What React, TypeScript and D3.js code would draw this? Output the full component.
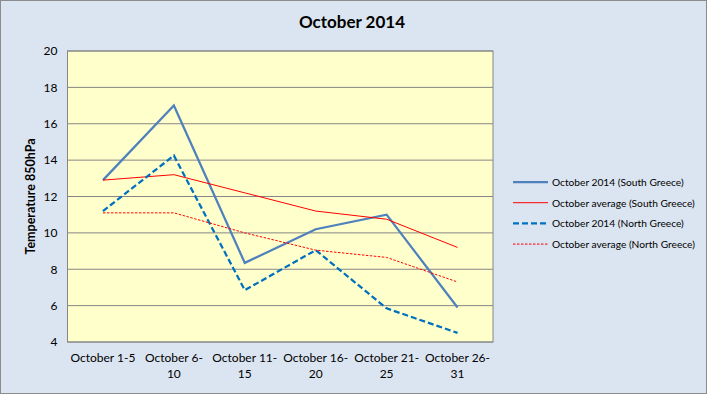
import React, { useEffect, useRef } from 'react'
import * as d3 from 'd3'

const categories = ['October 1-5', 'October 6-10', 'October 11-15', 'October 16-20', 'October 21-25', 'October 26-31']
const categoryLines = [['October 1-5'], ['October 6-', '10'], ['October 11-', '15'], ['October 16-', '20'], ['October 21-', '25'], ['October 26-', '31']]
const south2014 = [12.9, 17.0, 8.35, 10.2, 11.0, 5.9]
const southAverage = [12.9, 13.2, 12.2, 11.2, 10.75, 9.2]
const north2014 = [11.2, 14.25, 6.85, 9.05, 5.85, 4.5]
const northAverage = [11.1, 11.1, 10.0, 9.05, 8.65, 7.3]
const yTicks = [4, 6, 8, 10, 12, 14, 16, 18, 20]

const seriesNames = [
	'October 2014 (South Greece)',
	'October average (South Greece)',
	'October 2014 (North Greece)',
	'October average (North Greece)'
]

const W = 707
const H = 394
const font = 'Lato, "Open Sans", sans-serif'

export default function App () {
	const ref = useRef<SVGSVGElement>(null)

	useEffect(() => {
		const svg = d3.select(ref.current)
		svg.selectAll('*').remove()

		const plot = { left: 67.5, right: 493, top: 51, bottom: 342 }

		const x = d3.scaleBand().domain(categories).range([plot.left, plot.right])
		const y = d3.scaleLinear().domain([4, 20]).range([plot.bottom, plot.top])

		// chart background and frame
		svg.append('rect')
			.attr('x', 0.5).attr('y', 0.5)
			.attr('width', W - 1).attr('height', H - 1)
			.attr('fill', '#dbe5f1')
			.attr('stroke', '#8c8c8c')

		svg.append('text')
			.attr('x', 352).attr('y', 28)
			.attr('text-anchor', 'middle')
			.attr('font-family', font)
			.attr('font-weight', 'bold')
			.attr('font-size', 17)
			.text('October 2014')

		svg.append('rect')
			.attr('x', plot.left).attr('y', plot.top)
			.attr('width', plot.right - plot.left).attr('height', plot.bottom - plot.top)
			.attr('fill', '#ffffcc')

		// gridlines
		svg.append('g')
			.selectAll('line')
			.data(yTicks)
			.enter()
			.append('line')
				.attr('x1', plot.left).attr('x2', plot.right)
				.attr('y1', d => y(d)).attr('y2', d => y(d))
				.attr('stroke', '#868686')
				.attr('stroke-width', 1)

		svg.append('rect')
			.attr('x', plot.left).attr('y', plot.top)
			.attr('width', plot.right - plot.left).attr('height', plot.bottom - plot.top)
			.attr('fill', 'none')
			.attr('stroke', '#868686')

		// y axis
		const yAxis = svg.append('g')
			.attr('transform', `translate(${plot.left}, 0)`)
			.call(d3.axisLeft(y).tickValues(yTicks).tickSize(0).tickPadding(10).tickFormat(d3.format('d')))
		yAxis.select('.domain').remove()
		yAxis.selectAll('text')
			.attr('font-family', font)
			.attr('font-size', 12)
			.attr('fill', '#000')

		svg.append('text')
			.attr('transform', `translate(35, ${(plot.top + plot.bottom) / 2}) rotate(-90)`)
			.attr('text-anchor', 'middle')
			.attr('font-family', font)
			.attr('font-weight', 'bold')
			.attr('font-size', 12.5)
			.text('Temperature 850hPa')

		// x labels
		const xl = svg.append('g')
		categories.forEach((c, i) => {
			const t = xl.append('text')
				.attr('x', x(c)! + x.bandwidth() / 2)
				.attr('y', 362)
				.attr('text-anchor', 'middle')
				.attr('font-family', font)
				.attr('font-size', 12)
			categoryLines[i].forEach((s, j) => {
				t.append('tspan')
					.attr('x', x(c)! + x.bandwidth() / 2)
					.attr('dy', j === 0 ? 0 : 16)
					.text(s)
			})
		})

		const styles = [
			{ data: south2014, color: '#4f81bd', width: 2.25, dash: null },
			{ data: southAverage, color: '#ff0000', width: 1, dash: null },
			{ data: north2014, color: '#0070c0', width: 2.25, dash: '6,3' },
			{ data: northAverage, color: '#ff0000', width: 1, dash: '2.5,1.5' }
		]

		const line = d3.line<number>()
			.x((d, i) => x(categories[i])! + x.bandwidth() / 2)
			.y(d => y(d))

		styles.forEach(s => {
			svg.append('path')
				.datum(s.data)
				.attr('d', line)
				.attr('fill', 'none')
				.attr('stroke', s.color)
				.attr('stroke-width', s.width)
				.attr('stroke-dasharray', s.dash)
		})

		// legend
		const legend = svg.append('g')
		styles.forEach((s, i) => {
			const ly = 182 + i * 20.7
			legend.append('line')
				.attr('x1', 513).attr('x2', 548)
				.attr('y1', ly).attr('y2', ly)
				.attr('stroke', s.color)
				.attr('stroke-width', s.width)
				.attr('stroke-dasharray', s.dash)
			legend.append('text')
				.attr('x', 552).attr('y', ly + 4)
				.attr('font-family', font)
				.attr('font-size', 10.2)
				.text(seriesNames[i])
		})
	}, [])

	return (
		<div style={{ position: 'absolute', left: 0, top: 0 }}>
			<svg ref={ref} width={W} height={H} style={{ display: 'block' }} />
		</div>
	)
}
